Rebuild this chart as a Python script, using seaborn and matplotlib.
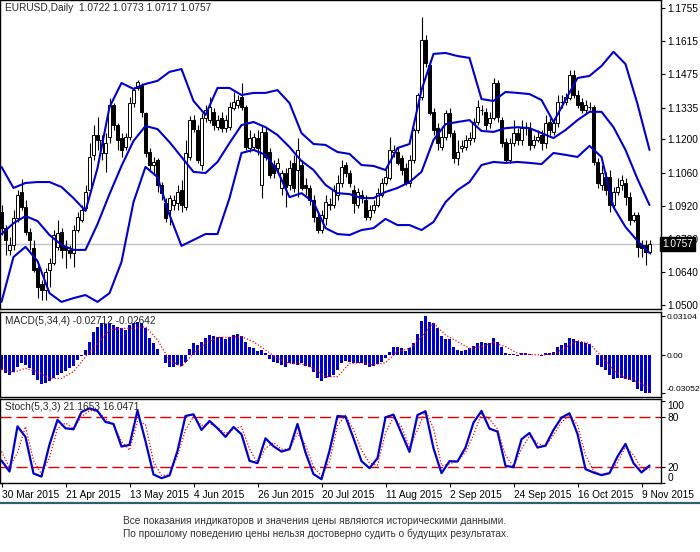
import matplotlib
matplotlib.use("Agg")
import matplotlib.pyplot as plt
from matplotlib.lines import Line2D
import numpy as np
import seaborn as sns

# =========================
# DATA
# =========================

# daily EURUSD candles, 30 Mar 2015 .. 11 Nov 2015
opens = [
    1.0894, 1.0825, 1.0733, 1.0754, 1.0868, 1.0978, 1.0914, 1.0809, 1.0741, 1.0656,
    1.0589, 1.0563, 1.0648, 1.0677, 1.0745, 1.0809, 1.0745, 1.0733, 1.0720, 1.0817,
    1.0859, 1.0910, 1.0986, 1.1135, 1.1219, 1.1143, 1.1143, 1.1210, 1.1346, 1.1261,
    1.1206, 1.1168, 1.1210, 1.1354, 1.1418, 1.1431, 1.1312, 1.1147, 1.1092, 1.1113,
    1.1008, 1.0931, 1.0902, 1.0923, 1.0931, 1.0986, 1.0914, 1.1126, 1.1282, 1.1240,
    1.1092, 1.1291, 1.1282, 1.1317, 1.1252, 1.1291, 1.1248, 1.1252, 1.1333, 1.1346,
    1.1379, 1.1337, 1.1164, 1.1168, 1.1206, 1.1008, 1.1232, 1.1147, 1.1092, 1.1079,
    1.0995, 1.1058, 1.1008, 1.1101, 1.1071, 1.1092, 1.1008, 1.0995, 1.0944, 1.0872,
    1.0817, 1.0868, 1.0927, 1.0923, 1.0965, 1.1016, 1.1092, 1.1058, 1.0986, 1.0923,
    1.0965, 1.0944, 1.0872, 1.0902, 1.0923, 1.0965, 1.1016, 1.1037, 1.1147, 1.1147,
    1.1122, 1.1079, 1.1016, 1.1113, 1.1240, 1.1379, 1.1621, 1.1515, 1.1317, 1.1248,
    1.1168, 1.1210, 1.1312, 1.1227, 1.1122, 1.1164, 1.1168, 1.1198, 1.1206, 1.1274,
    1.1325, 1.1317, 1.1269, 1.1291, 1.1439, 1.1282, 1.1189, 1.1113, 1.1185, 1.1227,
    1.1198, 1.1248, 1.1248, 1.1177, 1.1198, 1.1219, 1.1185, 1.1274, 1.1232, 1.1269,
    1.1359, 1.1359, 1.1375, 1.1473, 1.1388, 1.1359, 1.1325, 1.1337, 1.1337, 1.1105,
    1.1008, 1.1041, 1.1041, 1.0923, 1.0978, 1.1008, 1.1016, 1.0956, 1.0859, 1.0881,
    1.0754, 1.0754, 1.0722,
]
highs = [
    1.0923, 1.0838, 1.0787, 1.0902, 1.0986, 1.1033, 1.0944, 1.0825, 1.0775, 1.0669,
    1.0606, 1.0656, 1.0699, 1.0817, 1.0859, 1.0825, 1.0775, 1.0754, 1.0838, 1.0894,
    1.0923, 1.1008, 1.1185, 1.1261, 1.1295, 1.1219, 1.1227, 1.1375, 1.1354, 1.1269,
    1.1227, 1.1227, 1.1379, 1.1422, 1.1452, 1.1439, 1.1317, 1.1164, 1.1126, 1.1122,
    1.1020, 1.0952, 1.0965, 1.0965, 1.1008, 1.1029, 1.1198, 1.1299, 1.1304, 1.1261,
    1.1312, 1.1346, 1.1379, 1.1333, 1.1304, 1.1317, 1.1304, 1.1359, 1.1401, 1.1388,
    1.1439, 1.1346, 1.1240, 1.1227, 1.1240, 1.1261, 1.1248, 1.1164, 1.1113, 1.1122,
    1.1071, 1.1079, 1.1113, 1.1135, 1.1206, 1.1113, 1.1037, 1.1008, 1.0965, 1.0894,
    1.0902, 1.0965, 1.0952, 1.1008, 1.1050, 1.1113, 1.1105, 1.1071, 1.1008, 1.0995,
    1.0986, 1.0965, 1.0923, 1.0944, 1.0995, 1.1037, 1.1079, 1.1210, 1.1177, 1.1168,
    1.1135, 1.1101, 1.1135, 1.1248, 1.1397, 1.1718, 1.1642, 1.1536, 1.1333, 1.1269,
    1.1248, 1.1325, 1.1333, 1.1240, 1.1198, 1.1198, 1.1219, 1.1232, 1.1291, 1.1367,
    1.1346, 1.1333, 1.1317, 1.1460, 1.1452, 1.1295, 1.1206, 1.1206, 1.1282, 1.1248,
    1.1282, 1.1274, 1.1274, 1.1219, 1.1240, 1.1240, 1.1304, 1.1291, 1.1291, 1.1388,
    1.1388, 1.1397, 1.1494, 1.1494, 1.1409, 1.1375, 1.1367, 1.1359, 1.1346, 1.1122,
    1.1092, 1.1063, 1.1071, 1.0999, 1.1037, 1.1050, 1.1037, 1.0978, 1.0894, 1.0894,
    1.0775, 1.0775, 1.0773,
]
lows = [
    1.0796, 1.0712, 1.0712, 1.0733, 1.0851, 1.0902, 1.0796, 1.0733, 1.0640, 1.0529,
    1.0521, 1.0521, 1.0576, 1.0669, 1.0733, 1.0699, 1.0656, 1.0699, 1.0660, 1.0809,
    1.0851, 1.0902, 1.0973, 1.1113, 1.1156, 1.1113, 1.1063, 1.1185, 1.1240, 1.1156,
    1.1126, 1.1156, 1.1198, 1.1337, 1.1409, 1.1295, 1.1126, 1.1071, 1.1050, 1.0978,
    1.0944, 1.0851, 1.0838, 1.0902, 1.0902, 1.0894, 1.0902, 1.1113, 1.1232, 1.1101,
    1.1071, 1.1274, 1.1269, 1.1240, 1.1240, 1.1232, 1.1232, 1.1240, 1.1325, 1.1333,
    1.1325, 1.1156, 1.1147, 1.1156, 1.1135, 1.0952, 1.1113, 1.1037, 1.1037, 1.1063,
    1.0965, 1.0914, 1.0986, 1.0978, 1.0956, 1.0986, 1.0965, 1.0923, 1.0851, 1.0804,
    1.0804, 1.0838, 1.0902, 1.0910, 1.0944, 1.0999, 1.1041, 1.0999, 1.0889, 1.0910,
    1.0931, 1.0859, 1.0859, 1.0889, 1.0914, 1.0956, 1.1008, 1.1029, 1.1126, 1.1092,
    1.1050, 1.1008, 1.0999, 1.1101, 1.1227, 1.1367, 1.1506, 1.1304, 1.1219, 1.1156,
    1.1156, 1.1198, 1.1210, 1.1101, 1.1092, 1.1147, 1.1156, 1.1177, 1.1189, 1.1261,
    1.1304, 1.1240, 1.1248, 1.1282, 1.1274, 1.1168, 1.1101, 1.1101, 1.1173, 1.1177,
    1.1177, 1.1219, 1.1156, 1.1164, 1.1189, 1.1156, 1.1164, 1.1219, 1.1219, 1.1252,
    1.1333, 1.1346, 1.1367, 1.1375, 1.1333, 1.1312, 1.1312, 1.1325, 1.1092, 1.0995,
    1.0986, 1.0965, 1.0894, 1.0910, 1.0965, 1.0986, 1.0923, 1.0838, 1.0851, 1.0703,
    1.0703, 1.0669, 1.0717,
]
closes = [
    1.0825, 1.0775, 1.0754, 1.0868, 1.0965, 1.0914, 1.0809, 1.0775, 1.0648, 1.0576,
    1.0563, 1.0640, 1.0677, 1.0796, 1.0804, 1.0733, 1.0733, 1.0720, 1.0817, 1.0872,
    1.0902, 1.0978, 1.1126, 1.1219, 1.1198, 1.1198, 1.1185, 1.1346, 1.1261, 1.1198,
    1.1156, 1.1210, 1.1354, 1.1409, 1.1444, 1.1317, 1.1143, 1.1092, 1.1105, 1.1008,
    1.0973, 1.0868, 1.0952, 1.0944, 1.0978, 1.0923, 1.1143, 1.1282, 1.1244, 1.1113,
    1.1291, 1.1325, 1.1337, 1.1261, 1.1282, 1.1248, 1.1282, 1.1337, 1.1359, 1.1367,
    1.1337, 1.1168, 1.1206, 1.1210, 1.1164, 1.1232, 1.1126, 1.1050, 1.1058, 1.1101,
    1.1058, 1.0999, 1.1079, 1.0995, 1.1156, 1.0995, 1.0995, 1.0944, 1.0872, 1.0817,
    1.0881, 1.0935, 1.0923, 1.0986, 1.1016, 1.1084, 1.1058, 1.1016, 1.0931, 1.0978,
    1.0952, 1.0872, 1.0902, 1.0923, 1.0973, 1.1016, 1.1041, 1.1156, 1.1156, 1.1101,
    1.1071, 1.1016, 1.1113, 1.1240, 1.1388, 1.1621, 1.1523, 1.1312, 1.1240, 1.1185,
    1.1210, 1.1312, 1.1227, 1.1122, 1.1147, 1.1173, 1.1198, 1.1206, 1.1274, 1.1337,
    1.1326, 1.1261, 1.1291, 1.1439, 1.1295, 1.1185, 1.1113, 1.1185, 1.1227, 1.1198,
    1.1248, 1.1249, 1.1177, 1.1198, 1.1210, 1.1185, 1.1269, 1.1240, 1.1269, 1.1359,
    1.1360, 1.1379, 1.1473, 1.1388, 1.1346, 1.1325, 1.1346, 1.1338, 1.1105, 1.1016,
    1.1058, 1.0986, 1.0923, 1.0978, 1.0999, 1.1029, 1.0956, 1.0859, 1.0881, 1.0745,
    1.0741, 1.0722, 1.0757,
]

# Bollinger bands, read every 3rd bar
bb_upper = [
    1.1084, 1.0995, 1.1016, 1.1020, 1.1020, 1.0999, 1.0952, 1.0898, 1.1079, 1.1337,
    1.1439, 1.1414, 1.1435, 1.1448, 1.1486, 1.1498, 1.1363, 1.1304, 1.1418, 1.1418,
    1.1388, 1.1397, 1.1397, 1.1409, 1.1354, 1.1227, 1.1181, 1.1177, 1.1147, 1.1139,
    1.1092, 1.1088, 1.1071, 1.1164, 1.1181, 1.1409, 1.1562, 1.1566, 1.1553, 1.1545,
    1.1371, 1.1363, 1.1401, 1.1397, 1.1392, 1.1367, 1.1274, 1.1367, 1.1460, 1.1469,
    1.1511, 1.1571, 1.1519, 1.1350, 1.1156,
]
bb_middle = [
    1.0800, 1.0846, 1.0876, 1.0855, 1.0796, 1.0754, 1.0733, 1.0733, 1.0842, 1.0969,
    1.1088, 1.1194, 1.1257, 1.1244, 1.1189, 1.1126, 1.1063, 1.1058, 1.1105, 1.1185,
    1.1261, 1.1274, 1.1252, 1.1219, 1.1168, 1.1109, 1.1071, 1.1008, 1.0973, 1.0969,
    1.0952, 1.0952, 1.0978, 1.0995, 1.1020, 1.1063, 1.1198, 1.1265, 1.1274, 1.1282,
    1.1236, 1.1232, 1.1248, 1.1252, 1.1248, 1.1227, 1.1206, 1.1240, 1.1282, 1.1317,
    1.1317, 1.1252, 1.1156, 1.1033, 1.0923,
]
bb_lower = [
    1.0513, 1.0703, 1.0746, 1.0686, 1.0550, 1.0513, 1.0529, 1.0542, 1.0513, 1.0550,
    1.0682, 1.0935, 1.1084, 1.1041, 1.0881, 1.0750, 1.0775, 1.0800, 1.0800, 1.0952,
    1.1143, 1.1156, 1.1135, 1.1067, 1.0956, 1.0973, 1.0935, 1.0825, 1.0800, 1.0796,
    1.0817, 1.0825, 1.0864, 1.0838, 1.0838, 1.0817, 1.0851, 1.0935, 1.0986, 1.1020,
    1.1092, 1.1105, 1.1101, 1.1105, 1.1101, 1.1096, 1.1143, 1.1135, 1.1126, 1.1173,
    1.1126, 1.0914, 1.0830, 1.0771, 1.0720,
]

# MACD(5,34,4) histogram, one per bar
macd_main = [
    -0.0120, -0.0146, -0.0160, -0.0133, -0.0093, -0.0067, -0.0080, -0.0106, -0.0160, -0.0200,
    -0.0231, -0.0221, -0.0205, -0.0186, -0.0160, -0.0146, -0.0125, -0.0106, -0.0088, -0.0040,
    -0.0008, 0.0040, 0.0106, 0.0186, 0.0226, 0.0253, 0.0247, 0.0258, 0.0239, 0.0226,
    0.0213, 0.0200, 0.0239, 0.0253, 0.0266, 0.0253, 0.0213, 0.0133, 0.0093, 0.0045,
    0.0003, -0.0067, -0.0098, -0.0098, -0.0080, -0.0088, -0.0053, 0.0045, 0.0093, 0.0080,
    0.0106, 0.0133, 0.0160, 0.0152, 0.0146, 0.0141, 0.0125, 0.0146, 0.0160, 0.0168,
    0.0152, 0.0106, 0.0067, 0.0053, 0.0035, 0.0040, 0.0013, -0.0035, -0.0053, -0.0061,
    -0.0080, -0.0093, -0.0067, -0.0072, -0.0080, -0.0067, -0.0088, -0.0098, -0.0133, -0.0186,
    -0.0205, -0.0186, -0.0173, -0.0160, -0.0120, -0.0067, -0.0045, -0.0053, -0.0067, -0.0061,
    -0.0067, -0.0080, -0.0098, -0.0088, -0.0072, -0.0053, -0.0027, 0.0027, 0.0061, 0.0061,
    0.0053, 0.0035, 0.0053, 0.0093, 0.0168, 0.0274, 0.0311, 0.0266, 0.0253, 0.0213,
    0.0152, 0.0125, 0.0125, 0.0067, 0.0040, 0.0035, 0.0040, 0.0053, 0.0072, 0.0093,
    0.0106, 0.0093, 0.0093, 0.0133, 0.0106, 0.0067, 0.0013, 0.0005, 0.0005, -0.0008,
    0.0013, 0.0013, 0.0005, -0.0003, -0.0003, -0.0008, 0.0013, 0.0019, 0.0027, 0.0061,
    0.0080, 0.0093, 0.0133, 0.0125, 0.0114, 0.0106, 0.0093, 0.0088, 0.0002, -0.0080,
    -0.0093, -0.0120, -0.0160, -0.0194, -0.0186, -0.0186, -0.0194, -0.0200, -0.0213, -0.0274,
    -0.0285, -0.0300, -0.0305,
]
# MACD signal line, read every 3rd bar
macd_signal = [
    -0.0114, -0.0138, -0.0106, -0.0133, -0.0186, -0.0186, -0.0133, -0.0013, 0.0093, 0.0200,
    0.0213, 0.0213, 0.0226, 0.0120, -0.0040, -0.0093, 0.0013, 0.0093, 0.0141, 0.0141,
    0.0146, 0.0106, 0.0040, -0.0027, -0.0067, -0.0072, -0.0106, -0.0173, -0.0173, -0.0067,
    -0.0061, -0.0080, -0.0061, 0.0027, 0.0053, 0.0146, 0.0253, 0.0160, 0.0106, 0.0053,
    0.0067, 0.0098, 0.0067, 0.0013, 0.0005, 0.0000, 0.0008, 0.0061, 0.0114, 0.0093,
    -0.0013, -0.0120, -0.0186, -0.0213, -0.0264,
]

# Stoch(5,3,3), read every 2nd bar
stoch_main = [
    27.3, 13.9, 69.0, 56.1, 11.5, 7.7, 46.8, 76.8, 66.6, 65.4,
    86.5, 91.0, 87.7, 74.3, 71.9, 44.3, 46.4, 88.1, 50.8, 10.3,
    5.8, 9.1, 39.1, 81.6, 83.6, 64.6, 75.5, 66.6, 56.1, 68.2,
    59.3, 26.9, 24.1, 54.4, 44.7, 38.2, 41.1, 71.9, 37.0, 10.7,
    4.5, 39.1, 81.6, 80.8, 54.4, 26.5, 18.0, 30.1, 80.0, 83.2,
    60.5, 37.8, 82.8, 87.3, 42.3, 11.9, 26.5, 26.1, 43.1, 73.5,
    87.7, 66.2, 62.6, 20.8, 19.2, 53.2, 60.9, 43.1, 45.5, 64.6,
    79.6, 84.9, 59.7, 16.8, 12.7, 9.5, 11.9, 32.2, 47.6, 24.1,
    12.7, 21.2,
]
stoch_signal = [
    38.2, 18.8, 37.0, 68.6, 27.3, 10.7, 30.9, 66.6, 73.1, 66.2,
    80.8, 88.1, 87.7, 78.0, 70.3, 50.4, 39.9, 75.1, 71.5, 26.1,
    9.1, 9.9, 33.4, 64.6, 80.8, 69.9, 72.7, 67.4, 60.1, 65.8,
    68.6, 41.5, 24.1, 42.3, 49.2, 41.1, 41.1, 60.5, 46.4, 19.2,
    8.6, 26.1, 70.0, 82.4, 64.6, 40.3, 24.1, 21.6, 61.3, 80.0,
    68.6, 43.1, 64.6, 88.1, 66.6, 21.2, 23.2, 26.5, 37.4, 58.5,
    84.5, 77.6, 65.8, 33.8, 20.0, 41.5, 57.3, 48.4, 44.3, 58.5,
    73.9, 83.2, 70.7, 33.8, 14.7, 9.9, 12.7, 24.9, 43.9, 34.2,
    17.6, 16.0,
]

date_ticks = [0, 16, 32, 48, 64, 80, 96, 112, 128, 144, 160]
date_labels = ["30 Mar 2015", "21 Apr 2015", "13 May 2015", "4 Jun 2015",
               "26 Jun 2015", "20 Jul 2015", "11 Aug 2015", "2 Sep 2015",
               "24 Sep 2015", "16 Oct 2015", "9 Nov 2015"]
price_ticks = [1.0500, 1.0640, 1.0780, 1.0920, 1.1060, 1.1200, 1.1335, 1.1475, 1.1615, 1.1755]
macd_ticks = [-0.03052, 0.0, 0.03104]
macd_tick_labels = ["-0.03052", "0.00", "0.03104"]
stoch_ticks = [0, 20, 80, 100]

footer = ("Все показания индикаторов и значения цены являются историческими данными.\n"
          "По прошлому поведению цены нельзя достоверно судить о будущих результатах.")

# =========================
# STYLE
# =========================

sns.set_style("white")
plt.rcParams['font.family'] = ['Liberation Sans', 'DejaVu Sans']
plt.rcParams['axes.linewidth'] = 1.0

BLUE = "#0000cc"
RED = "#ff0000"
FS = 7.3

n = len(closes)
idx = np.arange(n)
band_idx = np.arange(0, n, 3)
stoch_idx = np.arange(0, n, 2)

o = np.array(opens)
c = np.array(closes)
up = c >= o

W, H = 700, 552
def box(x0, y0, x1, y1):
    return [x0 / W, 1 - y1 / H, (x1 - x0) / W, (y1 - y0) / H]

fig = plt.figure(figsize=(7.0, 5.52), dpi=100)
ax1 = fig.add_axes(box(0, 0, 661, 309))
ax2 = fig.add_axes(box(0, 312, 661, 397))
ax3 = fig.add_axes(box(0, 399, 661, 483))

x_lim = (-0.375, 164.875)

# =========================
# PRICE PANEL
# =========================

ax1.axhline(closes[-1], color="#c0c0c0", lw=1.0, zorder=1)
ax1.vlines(idx, lows, highs, color="black", lw=0.8, zorder=2)
ax1.bar(idx[up], (c - o)[up], bottom=o[up], width=0.6, color="white",
        edgecolor="black", linewidth=0.7, zorder=3)
ax1.bar(idx[~up], (o - c)[~up], bottom=c[~up], width=0.6, color="black",
        edgecolor="black", linewidth=0.7, zorder=3)

for band in (bb_upper, bb_middle, bb_lower):
    sns.lineplot(x=band_idx, y=band, ax=ax1, color=BLUE, linewidth=1.5, zorder=4)

ax1.set_ylim(1.0483, 1.1790)
ax1.set_yticks(price_ticks)
ax1.set_yticklabels([f"{v:.4f}" for v in price_ticks])
ax1.text(0.008, 0.99, "EURUSD,Daily  1.0722 1.0773 1.0717 1.0757",
         transform=ax1.transAxes, ha="left", va="top", fontsize=FS)
ax1.text(1.002, closes[-1], f"{closes[-1]:.4f}", transform=ax1.get_yaxis_transform(),
         ha="left", va="center", fontsize=FS, color="white", zorder=10, clip_on=False,
         bbox=dict(boxstyle="square,pad=0.2", fc="black", ec="black"))

# =========================
# MACD PANEL
# =========================

ax2.bar(idx, macd_main, width=0.72, color=BLUE, linewidth=0, zorder=2)
sns.lineplot(x=band_idx, y=macd_signal, ax=ax2, color=RED, linewidth=0.9,
             linestyle=(0, (1, 1.5)), zorder=3)
ax2.set_ylim(-0.0335, 0.0343)
ax2.set_yticks(macd_ticks)
ax2.set_yticklabels(macd_tick_labels)
ax2.text(0.008, 0.95, "MACD(5,34,4) -0.02712 -0.02642",
         transform=ax2.transAxes, ha="left", va="top", fontsize=FS)

# =========================
# STOCHASTIC PANEL
# =========================

for lvl in (20, 80):
    ax3.axhline(lvl, color="#e00000", lw=1.0, dashes=(8, 3.5), zorder=1)
sns.lineplot(x=stoch_idx, y=stoch_main, ax=ax3, color=BLUE, linewidth=1.6, zorder=3)
sns.lineplot(x=stoch_idx, y=stoch_signal, ax=ax3, color=RED, linewidth=0.9,
             linestyle=(0, (1, 1.5)), zorder=2)
ax3.set_ylim(-0.1, 102.3)
ax3.set_yticks(stoch_ticks)
ax3.set_yticklabels([str(v) for v in stoch_ticks])
ax3.text(0.008, 0.965, "Stoch(5,3,3) 21.1653 16.0471",
         transform=ax3.transAxes, ha="left", va="top", fontsize=FS)

ax3.set_xticks(date_ticks)
ax3.set_xticklabels(date_labels)
for lab in ax3.get_xticklabels():
    lab.set_ha("left")

# =========================
# COMMON AXIS FORMAT
# =========================

for ax in (ax1, ax2, ax3):
    ax.set_xlim(*x_lim)
    ax.set_xlabel("")
    ax.set_ylabel("")
    ax.yaxis.tick_right()
    ax.tick_params(axis="y", which="both", right=True, left=False, direction="out",
                   length=3, width=0.8, labelsize=FS, pad=1.5, colors="black")
    for sp in ax.spines.values():
        sp.set_color("black")
        sp.set_linewidth(1.0)
    if ax is not ax3:
        ax.tick_params(axis="x", bottom=False, labelbottom=False)

ax3.tick_params(axis="x", bottom=True, direction="out", length=3, width=0.8,
                labelsize=FS, pad=2, colors="black")

# MACD labels are long: smaller, and pulled inside the panel at the ends
ax2.tick_params(axis="y", labelsize=6.1, pad=0.8)
mlabs = ax2.get_yticklabels()
mlabs[0].set_va("bottom")
slabs = ax3.get_yticklabels()
slabs[0].set_va("bottom")
slabs[-1].set_va("top")

# separator and footer
fig.add_artist(Line2D([0, 1], [1 - 503 / H, 1 - 503 / H], color="#2f5f70", lw=1.6))
fig.text(123 / W, 1 - 516 / H, footer, ha="left", va="top", fontsize=FS,
         color="#333333", linespacing=1.3)

plt.savefig("out.png", dpi=100)
